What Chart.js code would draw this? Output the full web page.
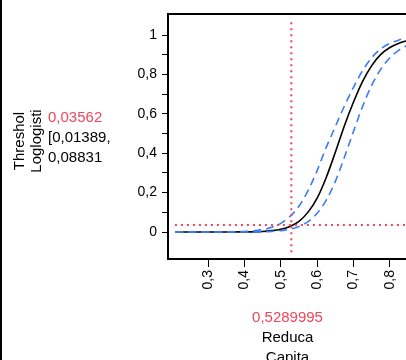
<!DOCTYPE html>
<html>
<head>
<meta charset="utf-8">
<script src="https://cdn.jsdelivr.net/npm/chart.js@4/dist/chart.umd.min.js"></script>
<style>
  html, body { margin: 0; padding: 0; background: #fff; overflow: hidden; }
  #wrap { position: relative; width: 406px; height: 360px; overflow: hidden; }
  #frame { position: absolute; left: 0; top: 0; width: 2px; height: 360px; background: #000; }
  canvas { position: absolute; left: 0; top: 0; }
</style>
</head>
<body>
<div id="wrap">
  <canvas id="curve" width="410" height="360"></canvas>
  <div id="frame"></div>
</div>
<script>
// dose values (x) and response
var doseValues = [0.21, 0.25, 0.30, 0.35, 0.40, 0.45, 0.475, 0.50, 0.525, 0.55, 0.575, 0.60,
                  0.625, 0.65, 0.675, 0.70, 0.725, 0.75, 0.775, 0.80, 0.825, 0.85];
var fitValues   = [0, 0, 0, 0.0001, 0.0005, 0.003, 0.007, 0.014, 0.028, 0.054, 0.101, 0.172,
                   0.277, 0.405, 0.54, 0.66, 0.765, 0.845, 0.902, 0.937, 0.959, 0.973];
var upperValues = [0, 0, 0.0001, 0.0005, 0.003, 0.012, 0.024, 0.044, 0.079, 0.131, 0.21, 0.312,
                   0.43, 0.535, 0.64, 0.735, 0.82, 0.885, 0.93, 0.958, 0.975, 0.987];
var lowerValues = [0, 0, 0, 0, 0.0003, 0.0014, 0.0033, 0.007, 0.014, 0.028, 0.053, 0.095,
                   0.162, 0.257, 0.38, 0.511, 0.638, 0.745, 0.827, 0.885, 0.924, 0.95];

var thresholdY = 0.03562;
var thresholdYText = ['0,03562', '[0,01389,', '0,08831'];
var thresholdX = 0.5289995;
var thresholdXText = '0,5289995';

var xTicks = [0.3, 0.4, 0.5, 0.6, 0.7, 0.8];
var xTickLabels = ['0,3', '0,4', '0,5', '0,6', '0,7', '0,8'];
var yTicks = [0, 0.1, 0.2, 0.3, 0.4, 0.5, 0.6, 0.7, 0.8, 0.9, 1];
var yTickLabels = ['0', '', '0,2', '', '0,4', '', '0,6', '', '0,8', '', '1'];

var yTitle = ['Threshol', 'Loglogisti'];
var xTitle = ['Reduca', 'Capita'];

var RED = '#f0455a';
var BLUE = '#3d7cf5';
var FONT = "'Liberation Sans', Arial, sans-serif";

function toPoints(xs, ys) {
    var pts = [];
    for (var i = 0; i < xs.length; i++) {
        pts.push({ x: xs[i], y: ys[i] });
    }
    return pts;
}

var boxAndText = {
    id: 'boxAndText',
    afterDraw: function(chart) {
        var ctx = chart.ctx;
        var a = chart.chartArea;
        ctx.save();
        ctx.strokeStyle = '#000';
        ctx.lineWidth = 2;
        ctx.strokeRect(a.left, a.top, a.right - a.left, a.bottom - a.top);

        ctx.font = '15px ' + FONT;
        ctx.textBaseline = 'alphabetic';

        // rotated titles on the left
        var cy = 141;
        var bx = [23.5, 41];
        for (var i = 0; i < yTitle.length; i++) {
            ctx.save();
            ctx.translate(bx[i], cy);
            ctx.rotate(-Math.PI / 2);
            ctx.textAlign = 'center';
            ctx.fillStyle = '#000';
            ctx.fillText(yTitle[i], 0, 0);
            ctx.restore();
        }

        // threshold value and interval
        ctx.textAlign = 'left';
        var lineY = [122, 142, 162];
        for (var j = 0; j < thresholdYText.length; j++) {
            ctx.fillStyle = j === 0 ? RED : '#000';
            ctx.fillText(thresholdYText[j], 48, lineY[j]);
        }

        // bottom texts
        var cx = (a.left + a.right) / 2;
        ctx.textAlign = 'center';
        ctx.fillStyle = RED;
        ctx.fillText(thresholdXText, cx, 322);
        ctx.fillStyle = '#000';
        ctx.fillText(xTitle[0], cx, 341.5);
        ctx.fillText(xTitle[1], cx, 361.5);
        ctx.restore();
    }
};

Chart.defaults.font.family = FONT;
Chart.defaults.font.size = 14;
Chart.defaults.color = '#000';

var context = document.getElementById('curve').getContext('2d');

var myChart = new Chart(context, {
    type: 'scatter',
    data: {
        datasets: [
            {
                data: [{ x: 0.209, y: thresholdY }, { x: 0.9, y: thresholdY }],
                showLine: true,
                borderColor: RED,
                borderWidth: 2,
                borderDash: [2, 4],
                pointRadius: 0
            },
            {
                data: [{ x: thresholdX, y: -0.103 }, { x: thresholdX, y: 1.07 }],
                showLine: true,
                borderColor: RED,
                borderWidth: 2,
                borderDash: [2, 4],
                pointRadius: 0
            },
            {
                data: toPoints(doseValues, upperValues),
                showLine: true,
                borderColor: BLUE,
                borderWidth: 1.6,
                borderDash: [8, 5],
                pointRadius: 0,
                cubicInterpolationMode: 'monotone'
            },
            {
                data: toPoints(doseValues, lowerValues),
                showLine: true,
                borderColor: BLUE,
                borderWidth: 1.6,
                borderDash: [8, 5],
                pointRadius: 0,
                cubicInterpolationMode: 'monotone'
            },
            {
                data: toPoints(doseValues, fitValues),
                showLine: true,
                borderColor: '#000',
                borderWidth: 1.6,
                pointRadius: 0,
                cubicInterpolationMode: 'monotone'
            }
        ]
    },
    options: {
        responsive: false,
        animation: false,
        layout: { padding: { left: 0, top: 14, right: 3, bottom: 0 } },
        plugins: {
            legend: { display: false },
            tooltip: { enabled: false }
        },
        scales: {
            x: {
                type: 'linear',
                min: 0.19,
                max: 0.847,
                border: { display: false },
                grid: { drawOnChartArea: false, tickLength: 8, color: '#000', lineWidth: 1 },
                afterBuildTicks: function(scale) {
                    scale.ticks = xTicks.map(function(v) { return { value: v }; });
                },
                afterFit: function(scale) { scale.height = 101; },
                ticks: {
                    minRotation: 90,
                    maxRotation: 90,
                    padding: 3,
                    callback: function(value) {
                        var k = xTicks.indexOf(Math.round(value * 10) / 10);
                        return k >= 0 ? xTickLabels[k] : '';
                    }
                }
            },
            y: {
                type: 'linear',
                min: -0.137,
                max: 1.107,
                border: { display: false },
                grid: { drawOnChartArea: false, tickLength: 6, color: '#000', lineWidth: 1 },
                afterBuildTicks: function(scale) {
                    scale.ticks = yTicks.map(function(v) { return { value: v }; });
                },
                afterFit: function(scale) { scale.width = 168; },
                ticks: {
                    padding: 5,
                    autoSkip: false,
                    callback: function(value) {
                        var k = Math.round(value * 10);
                        return yTickLabels[k] !== undefined ? yTickLabels[k] : '';
                    }
                }
            }
        }
    },
    plugins: [boxAndText]
});
</script>
</body>
</html>
